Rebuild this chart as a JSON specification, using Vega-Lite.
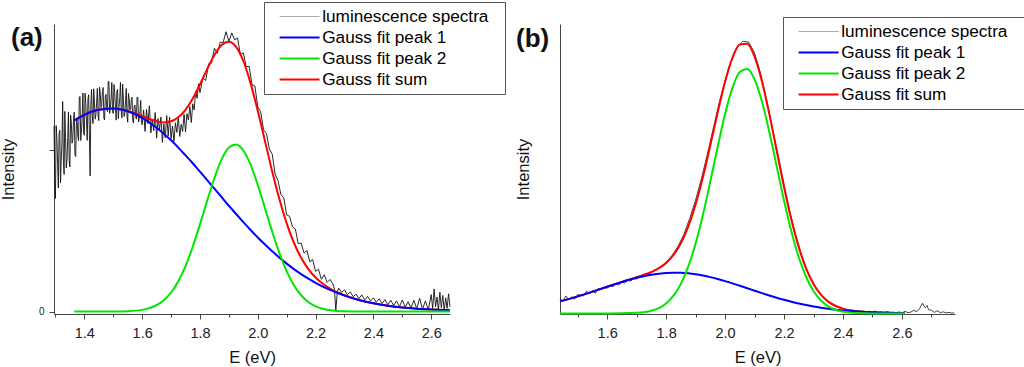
{
"$schema": "https://vega.github.io/schema/vega-lite/v6.json",
"padding": {"left": 0, "top": 1, "right": 0, "bottom": 0},
"config": {
  "font": "Liberation Sans",
  "view": {"stroke": null},
  "axis": {"domainColor": "#444", "tickColor": "#444", "labelColor": "#222", "titleColor": "#111", "grid": false, "labelFontSize": 14.5, "titleFontSize": 16.5, "titleFontWeight": "normal", "labelFont": "Liberation Sans", "titleFont": "Liberation Sans"},
  "legend": {"padding": 4, "strokeColor": "#555", "strokeWidth": 1, "fillColor": "white", "symbolType": "stroke", "symbolSize": 1600, "symbolStrokeWidth": 2, "symbolOffset": 23, "labelOffset": 14, "labelFontSize": 17.2, "labelColor": "#000", "labelFont": "Liberation Sans", "clipHeight": 21, "rowPadding": 0, "labelLimit": 400}
},
"datasets": {
  "specA": [
    {"E":1.295,"I":1.148},{"E":1.2975,"I":0.828},{"E":1.300,"I":0.70},{"E":1.3025,"I":1.151},{"E":1.305,"I":1.068},{"E":1.3075,"I":0.916},{"E":1.310,"I":0.765},{"E":1.3125,"I":1.098},{"E":1.315,"I":1.122},{"E":1.3175,"I":0.797},
    {"E":1.320,"I":0.934},{"E":1.3225,"I":1.049},{"E":1.325,"I":1.30},{"E":1.3275,"I":0.93},{"E":1.330,"I":0.849},{"E":1.3325,"I":1.239},{"E":1.335,"I":1.079},{"E":1.3375,"I":0.889},{"E":1.340,"I":0.94},{"E":1.3425,"I":1.077},
    {"E":1.345,"I":1.236},{"E":1.3475,"I":0.936},{"E":1.350,"I":0.895},{"E":1.3525,"I":1.216},{"E":1.355,"I":1.17},{"E":1.3575,"I":1.042},{"E":1.360,"I":1.066},{"E":1.3625,"I":1.193},{"E":1.365,"I":1.234},{"E":1.3675,"I":0.97},
    {"E":1.370,"I":0.96},{"E":1.3725,"I":1.172},{"E":1.375,"I":1.196},{"E":1.3775,"I":1.085},{"E":1.380,"I":1.058},{"E":1.3825,"I":1.327},{"E":1.385,"I":1.332},{"E":1.3875,"I":1.059},{"E":1.390,"I":1.117},{"E":1.3925,"I":1.21},
    {"E":1.395,"I":1.353},{"E":1.3975,"I":1.103},{"E":1.400,"I":1.091},{"E":1.4025,"I":1.351},{"E":1.405,"I":1.288},{"E":1.4075,"I":1.174},{"E":1.410,"I":1.06},{"E":1.4125,"I":1.32},{"E":1.415,"I":1.342},{"E":1.4175,"I":1.092},
    {"E":1.420,"I":0.84},{"E":1.4225,"I":1.276},{"E":1.425,"I":1.375},{"E":1.4275,"I":1.21},{"E":1.430,"I":1.164},{"E":1.4325,"I":1.379},{"E":1.435,"I":1.294},{"E":1.4375,"I":1.191},{"E":1.440,"I":1.22},{"E":1.4425,"I":1.295},
    {"E":1.445,"I":1.381},{"E":1.4475,"I":1.216},{"E":1.450,"I":1.182},{"E":1.4525,"I":1.389},{"E":1.455,"I":1.355},{"E":1.4575,"I":1.262},{"E":1.460,"I":1.276},{"E":1.4625,"I":1.362},{"E":1.465,"I":1.387},{"E":1.4675,"I":1.197},
    {"E":1.470,"I":1.186},{"E":1.4725,"I":1.331},{"E":1.475,"I":1.344},{"E":1.4775,"I":1.261},{"E":1.480,"I":1.238},{"E":1.4825,"I":1.424},{"E":1.485,"I":1.424},{"E":1.4875,"I":1.226},{"E":1.490,"I":1.262},{"E":1.4925,"I":1.322},
    {"E":1.495,"I":1.418},{"E":1.4975,"I":1.238},{"E":1.500,"I":1.226},{"E":1.5025,"I":1.405},{"E":1.505,"I":1.356},{"E":1.5075,"I":1.271},{"E":1.510,"I":1.185},{"E":1.5125,"I":1.364},{"E":1.515,"I":1.375},{"E":1.5175,"I":1.194},
    {"E":1.520,"I":1.264},{"E":1.5225,"I":1.323},{"E":1.525,"I":1.418},{"E":1.5275,"I":1.249},{"E":1.530,"I":1.199},{"E":1.5325,"I":1.408},{"E":1.535,"I":1.317},{"E":1.5375,"I":1.208},{"E":1.540,"I":1.23},{"E":1.5425,"I":1.30},
    {"E":1.545,"I":1.381},{"E":1.5475,"I":1.211},{"E":1.550,"I":1.172},{"E":1.5525,"I":1.35},{"E":1.555,"I":1.32},{"E":1.5575,"I":1.246},{"E":1.560,"I":1.252},{"E":1.5625,"I":1.312},{"E":1.565,"I":1.327},{"E":1.5675,"I":1.18},
    {"E":1.570,"I":1.168},{"E":1.5725,"I":1.273},{"E":1.575,"I":1.278},{"E":1.5775,"I":1.212},{"E":1.580,"I":1.191},{"E":1.5825,"I":1.328},{"E":1.585,"I":1.325},{"E":1.5875,"I":1.173},{"E":1.590,"I":1.197},{"E":1.5925,"I":1.239},
    {"E":1.595,"I":1.307},{"E":1.5975,"I":1.169},{"E":1.600,"I":1.157},{"E":1.605,"I":1.248},{"E":1.610,"I":1.115},{"E":1.615,"I":1.251},{"E":1.620,"I":1.163},{"E":1.625,"I":1.274},{"E":1.630,"I":1.106},{"E":1.635,"I":1.189},
    {"E":1.640,"I":1.12},{"E":1.645,"I":1.232},{"E":1.650,"I":1.074},{"E":1.655,"I":1.195},{"E":1.660,"I":1.127},{"E":1.665,"I":1.204},{"E":1.670,"I":1.047},{"E":1.675,"I":1.161},{"E":1.680,"I":1.076},{"E":1.685,"I":1.213},
    {"E":1.690,"I":1.088},{"E":1.695,"I":1.203},{"E":1.700,"I":1.071},{"E":1.705,"I":1.149},{"E":1.710,"I":1.053},{"E":1.715,"I":1.168},{"E":1.720,"I":1.109},{"E":1.725,"I":1.205},{"E":1.730,"I":1.084},{"E":1.735,"I":1.159},
    {"E":1.740,"I":1.115},{"E":1.745,"I":1.221},{"E":1.750,"I":1.112},{"E":1.755,"I":1.225},{"E":1.760,"I":1.186},{"E":1.765,"I":1.269},{"E":1.770,"I":1.17},{"E":1.775,"I":1.286},{"E":1.780,"I":1.248},{"E":1.785,"I":1.363},
    {"E":1.790,"I":1.32},{"E":1.795,"I":1.41},{"E":1.800,"I":1.355},
    {"E":1.81,"I":1.446},{"E":1.82,"I":1.43},{"E":1.83,"I":1.534},{"E":1.84,"I":1.538},{"E":1.85,"I":1.63},{"E":1.86,"I":1.598},{"E":1.87,"I":1.668},{"E":1.88,"I":1.665},{"E":1.89,"I":1.732},{"E":1.90,"I":1.674},
    {"E":1.91,"I":1.725},{"E":1.92,"I":1.682},{"E":1.93,"I":1.693},{"E":1.94,"I":1.59},{"E":1.95,"I":1.602},{"E":1.96,"I":1.516},{"E":1.97,"I":1.518},{"E":1.98,"I":1.404},{"E":1.99,"I":1.396},{"E":2.00,"I":1.267},
    {"E":2.01,"I":1.237},{"E":2.02,"I":1.125},{"E":2.03,"I":1.103},{"E":2.04,"I":1.006},{"E":2.05,"I":0.975},{"E":2.06,"I":0.851},{"E":2.07,"I":0.811},{"E":2.08,"I":0.725},{"E":2.09,"I":0.704},{"E":2.10,"I":0.598},
    {"E":2.11,"I":0.59},{"E":2.12,"I":0.524},{"E":2.13,"I":0.511},{"E":2.14,"I":0.42},{"E":2.15,"I":0.424},{"E":2.16,"I":0.362},{"E":2.17,"I":0.379},{"E":2.18,"I":0.308},{"E":2.19,"I":0.322},{"E":2.20,"I":0.249},
    {"E":2.21,"I":0.262},{"E":2.22,"I":0.20},{"E":2.23,"I":0.228},{"E":2.24,"I":0.181},{"E":2.25,"I":0.199},{"E":2.26,"I":0.17},{"E":2.265,"I":0.14},{"E":2.27,"I":0.005},{"E":2.275,"I":0.12},{"E":2.28,"I":0.145},
    {"E":2.29,"I":0.118},{"E":2.30,"I":0.135},{"E":2.31,"I":0.104},{"E":2.32,"I":0.122},{"E":2.33,"I":0.092},{"E":2.34,"I":0.108},{"E":2.35,"I":0.081},{"E":2.36,"I":0.103},{"E":2.37,"I":0.072},{"E":2.38,"I":0.094},
    {"E":2.39,"I":0.066},{"E":2.40,"I":0.085},{"E":2.41,"I":0.058},{"E":2.42,"I":0.079},{"E":2.43,"I":0.05},{"E":2.44,"I":0.074},{"E":2.45,"I":0.042},{"E":2.46,"I":0.07},{"E":2.47,"I":0.038},{"E":2.48,"I":0.066},
    {"E":2.49,"I":0.03},{"E":2.50,"I":0.072},{"E":2.51,"I":0.028},{"E":2.52,"I":0.061},{"E":2.53,"I":0.022},{"E":2.54,"I":0.07},{"E":2.55,"I":0.018},{"E":2.56,"I":0.082},{"E":2.57,"I":0.015},{"E":2.58,"I":0.066},
    {"E":2.59,"I":0.01},{"E":2.60,"I":0.105},{"E":2.605,"I":0.02},{"E":2.61,"I":0.14},{"E":2.615,"I":0.03},{"E":2.62,"I":0.09},{"E":2.625,"I":0.01},{"E":2.63,"I":0.12},{"E":2.635,"I":0.025},{"E":2.64,"I":0.10},
    {"E":2.645,"I":0.005},{"E":2.65,"I":0.085},{"E":2.655,"I":0.02},{"E":2.66,"I":0.11},{"E":2.665,"I":0.03}
  ],
  "fitA": [
    {"E":1.365,"p1":1.183,"p2":0,"sum":1.183},{"E":1.40,"p1":1.218,"p2":0,"sum":1.218},{"E":1.45,"p1":1.249,"p2":0,"sum":1.249},{"E":1.50,"p1":1.257,"p2":0.0001,"sum":1.257},
    {"E":1.55,"p1":1.240,"p2":0.0023,"sum":1.242},{"E":1.60,"p1":1.199,"p2":0.0106,"sum":1.210},{"E":1.65,"p1":1.138,"p2":0.0396,"sum":1.178},{"E":1.675,"p1":1.101,"p2":0.0703,"sum":1.171},
    {"E":1.70,"p1":1.060,"p2":0.118,"sum":1.178},{"E":1.725,"p1":1.015,"p2":0.188,"sum":1.203},{"E":1.75,"p1":0.967,"p2":0.282,"sum":1.249},{"E":1.775,"p1":0.918,"p2":0.401,"sum":1.319},
    {"E":1.80,"p1":0.866,"p2":0.540,"sum":1.406},{"E":1.825,"p1":0.814,"p2":0.687,"sum":1.501},{"E":1.85,"p1":0.761,"p2":0.827,"sum":1.588},{"E":1.875,"p1":0.708,"p2":0.942,"sum":1.650},
    {"E":1.90,"p1":0.655,"p2":1.015,"sum":1.670},{"E":1.925,"p1":0.604,"p2":1.034,"sum":1.638},{"E":1.95,"p1":0.554,"p2":0.997,"sum":1.551},{"E":1.975,"p1":0.505,"p2":0.909,"sum":1.414},
    {"E":2.00,"p1":0.459,"p2":0.784,"sum":1.243},{"E":2.025,"p1":0.415,"p2":0.640,"sum":1.055},{"E":2.05,"p1":0.373,"p2":0.494,"sum":0.867},{"E":2.075,"p1":0.334,"p2":0.361,"sum":0.695},
    {"E":2.10,"p1":0.297,"p2":0.249,"sum":0.546},{"E":2.125,"p1":0.263,"p2":0.163,"sum":0.426},{"E":2.15,"p1":0.232,"p2":0.101,"sum":0.333},{"E":2.175,"p1":0.204,"p2":0.0588,"sum":0.263},
    {"E":2.20,"p1":0.178,"p2":0.0325,"sum":0.211},{"E":2.225,"p1":0.155,"p2":0.0170,"sum":0.172},{"E":2.25,"p1":0.134,"p2":0.0084,"sum":0.142},{"E":2.30,"p1":0.099,"p2":0.0017,"sum":0.101},
    {"E":2.35,"p1":0.072,"p2":0.0003,"sum":0.072},{"E":2.40,"p1":0.051,"p2":0,"sum":0.051},{"E":2.45,"p1":0.036,"p2":0,"sum":0.036},{"E":2.50,"p1":0.025,"p2":0,"sum":0.025},
    {"E":2.55,"p1":0.018,"p2":0,"sum":0.018},{"E":2.60,"p1":0.013,"p2":0,"sum":0.013},{"E":2.665,"p1":0.008,"p2":0,"sum":0.008}
  ],
  "specB": [
    {"E":1.44,"I":0.055},{"E":1.45,"I":0.046},{"E":1.46,"I":0.065},{"E":1.47,"I":0.050},{"E":1.48,"I":0.062},{"E":1.49,"I":0.053},{"E":1.50,"I":0.070},{"E":1.51,"I":0.067},{"E":1.52,"I":0.065},{"E":1.53,"I":0.083},
    {"E":1.54,"I":0.073},{"E":1.55,"I":0.084},{"E":1.56,"I":0.075},{"E":1.57,"I":0.093},{"E":1.58,"I":0.088},{"E":1.59,"I":0.098},{"E":1.60,"I":0.093},{"E":1.61,"I":0.104},{"E":1.62,"I":0.099},{"E":1.63,"I":0.110},
    {"E":1.64,"I":0.106},{"E":1.65,"I":0.116},{"E":1.66,"I":0.113},{"E":1.67,"I":0.123},{"E":1.68,"I":0.120},{"E":1.69,"I":0.129},{"E":1.70,"I":0.128},{"E":1.71,"I":0.137},{"E":1.72,"I":0.136},{"E":1.73,"I":0.144},
    {"E":1.74,"I":0.145},{"E":1.75,"I":0.153},{"E":1.76,"I":0.158},{"E":1.78,"I":0.172},{"E":1.80,"I":0.190},{"E":1.82,"I":0.214},{"E":1.84,"I":0.248},{"E":1.86,"I":0.292},{"E":1.88,"I":0.352},{"E":1.90,"I":0.420},
    {"E":1.92,"I":0.500},{"E":1.94,"I":0.590},{"E":1.96,"I":0.685},{"E":1.98,"I":0.780},{"E":2.00,"I":0.862},{"E":2.02,"I":0.935},{"E":2.04,"I":0.985},{"E":2.06,"I":1.008},{"E":2.08,"I":1.005},{"E":2.10,"I":0.965},
    {"E":2.12,"I":0.890},{"E":2.14,"I":0.795},{"E":2.16,"I":0.690},{"E":2.18,"I":0.585},{"E":2.20,"I":0.478},{"E":2.22,"I":0.375},{"E":2.24,"I":0.290},{"E":2.26,"I":0.215},{"E":2.28,"I":0.155},{"E":2.30,"I":0.110},
    {"E":2.32,"I":0.076},{"E":2.34,"I":0.052},{"E":2.36,"I":0.036},{"E":2.38,"I":0.025},{"E":2.40,"I":0.018},{"E":2.41,"I":0.016},{"E":2.42,"I":0.012},{"E":2.43,"I":0.013},{"E":2.44,"I":0.009},{"E":2.45,"I":0.011},
    {"E":2.46,"I":0.007},{"E":2.47,"I":0.009},{"E":2.48,"I":0.005},{"E":2.49,"I":0.008},{"E":2.50,"I":0.004},{"E":2.51,"I":0.009},{"E":2.52,"I":0.003},{"E":2.53,"I":0.006},{"E":2.54,"I":0.002},{"E":2.55,"I":0.007},
    {"E":2.56,"I":0.003},{"E":2.57,"I":0.005},{"E":2.58,"I":0.001},{"E":2.59,"I":0.006},{"E":2.60,"I":0.002},{"E":2.61,"I":0.008},{"E":2.62,"I":0.003},{"E":2.63,"I":0.005},{"E":2.64,"I":0.012},{"E":2.65,"I":0.006},
    {"E":2.66,"I":0.018},{"E":2.665,"I":0.030},{"E":2.67,"I":0.038},{"E":2.675,"I":0.026},{"E":2.68,"I":0.022},{"E":2.685,"I":0.030},{"E":2.69,"I":0.014},{"E":2.70,"I":0.012},{"E":2.71,"I":0.004},{"E":2.72,"I":0.010},
    {"E":2.73,"I":0.003},{"E":2.74,"I":0.006},{"E":2.75,"I":0.002},{"E":2.76,"I":0.004},{"E":2.77,"I":0.001},{"E":2.777,"I":0.003}
  ],
  "fitB": [
    {"E":1.44,"p1":0.0447,"p2":0,"sum":0.0447},{"E":1.50,"p1":0.0632,"p2":0,"sum":0.0632},{"E":1.55,"p1":0.0807,"p2":0,"sum":0.0807},{"E":1.60,"p1":0.0989,"p2":0.0001,"sum":0.0990},
    {"E":1.65,"p1":0.1165,"p2":0.0004,"sum":0.1169},{"E":1.70,"p1":0.1319,"p2":0.0022,"sum":0.1341},{"E":1.75,"p1":0.1435,"p2":0.0101,"sum":0.1536},{"E":1.80,"p1":0.1499,"p2":0.0373,"sum":0.1872},
    {"E":1.825,"p1":0.1510,"p2":0.0658,"sum":0.2168},{"E":1.85,"p1":0.1505,"p2":0.1097,"sum":0.2602},{"E":1.875,"p1":0.1486,"p2":0.1732,"sum":0.3218},{"E":1.90,"p1":0.1452,"p2":0.2587,"sum":0.4039},
    {"E":1.925,"p1":0.1405,"p2":0.3655,"sum":0.5060},{"E":1.95,"p1":0.1346,"p2":0.4885,"sum":0.6231},{"E":1.975,"p1":0.1276,"p2":0.6176,"sum":0.7452},{"E":2.00,"p1":0.1198,"p2":0.7385,"sum":0.8583},
    {"E":2.025,"p1":0.1114,"p2":0.8354,"sum":0.9468},{"E":2.05,"p1":0.1025,"p2":0.8940,"sum":0.9965},{"E":2.075,"p1":0.0934,"p2":0.9050,"sum":0.9984},{"E":2.10,"p1":0.0843,"p2":0.8667,"sum":0.9510},
    {"E":2.125,"p1":0.0753,"p2":0.7850,"sum":0.8603},{"E":2.15,"p1":0.0666,"p2":0.6727,"sum":0.7393},{"E":2.175,"p1":0.0583,"p2":0.5453,"sum":0.6036},{"E":2.20,"p1":0.0505,"p2":0.4181,"sum":0.4686},
    {"E":2.225,"p1":0.0433,"p2":0.3033,"sum":0.3466},{"E":2.25,"p1":0.0368,"p2":0.2081,"sum":0.2449},{"E":2.275,"p1":0.0310,"p2":0.1350,"sum":0.1660},{"E":2.30,"p1":0.0258,"p2":0.0829,"sum":0.1087},
    {"E":2.325,"p1":0.0213,"p2":0.0482,"sum":0.0695},{"E":2.35,"p1":0.0174,"p2":0.0265,"sum":0.0439},{"E":2.40,"p1":0.0112,"p2":0.0068,"sum":0.0180},{"E":2.45,"p1":0.0070,"p2":0.0014,"sum":0.0084},
    {"E":2.50,"p1":0.0042,"p2":0.0002,"sum":0.0044},{"E":2.55,"p1":0.0024,"p2":0,"sum":0.0024},{"E":2.61,"p1":0.0012,"p2":0,"sum":0.0012}
  ]
},
"bounds": "flush",
"spacing": 110,
"resolve": {"scale": {"color": "independent"}},
"hconcat": [
  {
    "width": 396, "height": 290,
    "title": {"text": "(a)", "anchor": "start", "frame": "group", "dx": -43, "dy": 62, "offset": 0, "baseline": "middle", "fontSize": 26, "fontWeight": "bold", "color": "#111", "font": "Liberation Sans"},
    "encoding": {
      "x": {"field": "E", "type": "quantitative", "scale": {"domain": [1.295, 2.665], "nice": false, "zero": false},
        "axis": {"values": [1.3,1.4,1.5,1.6,1.7,1.8,1.9,2.0,2.1,2.2,2.3,2.4,2.5,2.6], "labelExpr": "round(datum.value*10) % 2 == 0 ? format(datum.value, '.1f') : ''", "tickSize": {"condition": {"test": "round(datum.value*10) % 2 == 0", "value": 5}, "value": 3}, "labelPadding": 7, "labelFlush": false, "labelOverlap": false, "title": "E (eV)", "titlePadding": 10}},
      "y": {"field": "I", "type": "quantitative", "scale": {"domain": [-0.015, 1.78], "nice": false, "zero": false},
        "axis": {"values": [0, 1], "labelExpr": "datum.value == 0 ? '0' : ''", "tickSize": 5, "labelFontSize": 10, "labelPadding": 5, "title": "Intensity", "titlePadding": 22}}
    },
    "layer": [
      {"data": {"name": "specA"}, "mark": {"type": "line", "color": "#111", "strokeWidth": 0.9}},
      {"data": {"name": "fitA"}, "transform": [{"fold": ["sum"], "as": ["s", "I"]}], "mark": {"type": "line", "strokeWidth": 2, "interpolate": "monotone"},
        "encoding": {"color": {"field": "s", "type": "nominal", "scale": {"domain": ["spec", "p1", "p2", "sum"], "range": ["#aaaaaa", "#0000ff", "#00e600", "#ff0000"]},
          "legend": {"title": null, "orient": "none", "legendX": 210, "legendY": -22, "labelExpr": "datum.label == 'spec' ? 'luminescence spectra\u2800' : datum.label == 'p1' ? 'Gauss fit peak 1' : datum.label == 'p2' ? 'Gauss fit peak 2' : 'Gauss fit sum'", "encode": {"symbols": {"update": {"strokeWidth": {"signal": "datum.value == 'spec' ? 1 : 2"}}}}}}}},
      {"data": {"name": "fitA"}, "transform": [{"fold": ["p1"], "as": ["s", "I"]}], "mark": {"type": "line", "strokeWidth": 2, "interpolate": "monotone"}, "encoding": {"color": {"field": "s", "type": "nominal"}}},
      {"data": {"name": "fitA"}, "transform": [{"fold": ["p2"], "as": ["s", "I"]}], "mark": {"type": "line", "strokeWidth": 2, "interpolate": "monotone"}, "encoding": {"color": {"field": "s", "type": "nominal"}}}
    ]
  },
  {
    "width": 395, "height": 290,
    "title": {"text": "(b)", "anchor": "start", "frame": "group", "dx": -44, "dy": 48, "offset": 0, "baseline": "middle", "fontSize": 26, "fontWeight": "bold", "color": "#111", "font": "Liberation Sans"},
    "encoding": {
      "x": {"field": "E", "type": "quantitative", "scale": {"domain": [1.44, 2.78], "nice": false, "zero": false},
        "axis": {"values": [1.5,1.6,1.7,1.8,1.9,2.0,2.1,2.2,2.3,2.4,2.5,2.6,2.7], "labelExpr": "round(datum.value*10) % 2 == 0 ? format(datum.value, '.1f') : ''", "tickSize": {"condition": {"test": "round(datum.value*10) % 2 == 0", "value": 5}, "value": 3}, "labelPadding": 7, "labelFlush": false, "labelOverlap": false, "title": "E (eV)", "titlePadding": 10}},
      "y": {"field": "I", "type": "quantitative", "scale": {"domain": [-0.002, 1.072], "nice": false, "zero": false},
        "axis": {"ticks": false, "labels": false, "title": "Intensity", "titlePadding": 29}}
    },
    "layer": [
      {"data": {"name": "specB"}, "mark": {"type": "line", "color": "#111", "strokeWidth": 0.8}},
      {"data": {"name": "fitB"}, "transform": [{"fold": ["sum"], "as": ["s", "I"]}], "mark": {"type": "line", "strokeWidth": 2, "interpolate": "monotone"},
        "encoding": {"color": {"field": "s", "type": "nominal", "scale": {"domain": ["spec", "p1", "p2", "sum"], "range": ["#aaaaaa", "#0000ff", "#00e600", "#ff0000"]},
          "legend": {"title": null, "orient": "none", "legendX": 223, "legendY": -7, "labelExpr": "datum.label == 'spec' ? 'luminescence spectra\u2800' : datum.label == 'p1' ? 'Gauss fit peak 1' : datum.label == 'p2' ? 'Gauss fit peak 2' : 'Gauss fit sum'", "encode": {"symbols": {"update": {"strokeWidth": {"signal": "datum.value == 'spec' ? 1 : 2"}}}}}}}},
      {"data": {"name": "fitB"}, "transform": [{"fold": ["p1"], "as": ["s", "I"]}], "mark": {"type": "line", "strokeWidth": 2, "interpolate": "monotone"}, "encoding": {"color": {"field": "s", "type": "nominal"}}},
      {"data": {"name": "fitB"}, "transform": [{"fold": ["p2"], "as": ["s", "I"]}], "mark": {"type": "line", "strokeWidth": 2, "interpolate": "monotone"}, "encoding": {"color": {"field": "s", "type": "nominal"}}}
    ]
  }
]
}
